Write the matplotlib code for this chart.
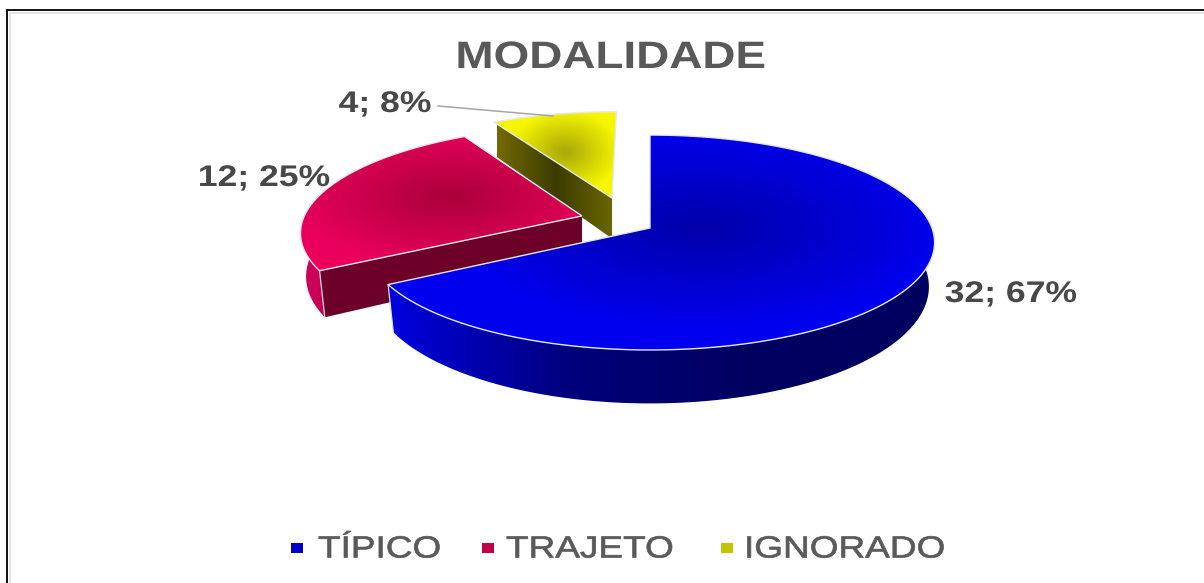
import numpy as np
import matplotlib
matplotlib.use("Agg")
import matplotlib.pyplot as plt
from matplotlib.patches import Polygon, Rectangle
from matplotlib.colors import LinearSegmentedColormap
from matplotlib.patheffects import AbstractPathEffect
from matplotlib.transforms import Affine2D

# Data
title = "MODALIDADE"
categories = ["TÍPICO", "TRAJETO", "IGNORADO"]
values = [32, 12, 4]

# Style
plt.rcParams["font.family"] = ["Liberation Sans", "DejaVu Sans"]
TXT = "#595959"
LBL = "#484848"
legend_colors = ["#0000c8", "#c00048", "#c4c400"]
explode = [(0.0, 0.0), (-0.245, 0.116), (-0.14, 0.295)]
grad_center = [(700, 228, 250, 100), (450, 197, 165, 70), (565, 152, 55, 42)]
top_inner = ["#0000aa", "#aa003a", "#a8a80a"]
top_outer = ["#0000ee", "#ea005c", "#f6f600"]
rim_stops = [["#0000e0", "#00007a", "#000060", "#000060"],
             ["#d80060", "#c00050"],
             ["#6a6400", "#6a6400"]]
rim_xr = [(385, 945), (295, 335), (490, 620)]
face_stops = [["#0000e0", "#0000e0"], ["#6c0028", "#6c0028"],
              ["#736a00", "#3c3c00", "#6c6800"]]
face_xr = [(380, 655), (315, 590), (497, 615)]
RIM_FROM, RIM_TO = 78.5, 281.5

X0, Y0, A, B, K, D, VP = 650.0, 228.0, 282.0, 105.5, 0.135, 43.0, 0.98


class StretchX(AbstractPathEffect):
    """Widen real text horizontally about a fixed pixel column."""

    def __init__(self, x0, sx, stroke=0.0):
        super().__init__()
        self.x0, self.sx, self.stroke = x0, sx, stroke

    def draw_path(self, renderer, gc, tpath, affine, rgbFace=None):
        aff = affine + Affine2D().translate(-self.x0, 0).scale(self.sx, 1).translate(self.x0, 0)
        gc0 = renderer.new_gc()
        gc0.copy_properties(gc)
        if self.stroke:
            gc0.set_linewidth(self.stroke)
            gc0.set_foreground(rgbFace)
        renderer.draw_path(gc0, tpath, aff, rgbFace)
        gc0.restore()


def project(x, y, ax0=None, z=0.0):
    s = 1.0 / (1.0 + K * y)
    px = X0 + A * x * s
    py = Y0 - B * y * s
    if z:
        px = ax0 + (px - ax0) * VP
        py = py + z * D * s ** 1.5
    return px, py


def arc(ex, ey, t0, t1, ax0=None, z=0.0, n=160):
    th = np.radians(np.linspace(t0, t1, n))
    return np.column_stack(project(ex + np.sin(th), ey + np.cos(th), ax0, z))


def paint(ax, poly, img, extent, z):
    patch = Polygon(poly, closed=True, fc="none", ec="none", zorder=z)
    ax.add_patch(patch)
    im = ax.imshow(img, extent=extent, aspect="auto", zorder=z, interpolation="bilinear")
    im.set_clip_path(patch)


def horiz(stops, xr):
    cm = LinearSegmentedColormap.from_list("h", stops)
    return cm(np.linspace(0, 1, 256))[None, :, :], (xr[0], xr[1], 583, 0)


fig = plt.figure(figsize=(12.04, 5.83), dpi=100, facecolor="white")
ax = fig.add_axes([0, 0, 1, 1])
ax.axis("off")

total = sum(values)
edges = np.concatenate([[0], np.cumsum(values)]) * 360.0 / total

z = 2
for i in range(len(values) - 1, -1, -1):
    t0, t1 = edges[i], edges[i + 1]
    ex, ey = explode[i]
    apex = np.array(project(ex, ey))
    top = arc(ex, ey, t0, t1)
    low = arc(ex, ey, t0, t1, apex[0], 1.0)
    apex_low = np.array(project(ex, ey, apex[0], 1.0))
    # outer rim: only the part that faces the viewer
    lo, hi = max(t0, RIM_FROM), min(t1, RIM_TO)
    if lo < hi:
        img, ext = horiz(rim_stops[i], rim_xr[i])
        paint(ax, np.vstack([arc(ex, ey, lo, hi), arc(ex, ey, lo, hi, apex[0], 1.0)[::-1]]),
              img, ext, z)
    # radial side faces: only those turned towards the viewer
    img, ext = horiz(face_stops[i], face_xr[i])
    if np.sin(np.radians(t0)) < -1e-6:
        paint(ax, np.vstack([apex, top[0], low[0], apex_low]), img, ext, z + 0.1)
    if np.sin(np.radians(t1)) > 1e-6:
        paint(ax, np.vstack([apex, top[-1], low[-1], apex_low]), img, ext, z + 0.2)
    # top surface
    poly = np.vstack([apex, top])
    xx, yy = np.meshgrid(np.arange(0, 1204, 2), np.arange(0, 583, 2))
    cx, cy, rx, ry = grad_center[i]
    d = np.clip(np.hypot((xx + 1 - cx) / rx, (yy + 1 - cy) / ry), 0, 1)
    cm = LinearSegmentedColormap.from_list("t", [top_inner[i], top_outer[i]])
    paint(ax, poly, cm(d), (0, 1204, 583, 0), z + 0.3)
    ax.add_patch(Polygon(poly, closed=True, fc="none", ec="#e6e6f0", lw=1.0,
                         zorder=z + 0.4, joinstyle="miter"))
    # vertical seam where the two front slices meet
    if i in (0, 1):
        seam = top[-1] if i == 0 else top[0]
        seam_low = low[-1] if i == 0 else low[0]
        ax.plot([seam[0], seam_low[0]], [seam[1], seam_low[1]], color="#dcdce6",
                lw=0.9, zorder=z + 0.4)
    z += 1

# Frame
ax.plot([7, 7, 1204], [583, 10, 10], color="#111111", lw=1.4, zorder=1,
        solid_joinstyle="miter")
ax.plot([9.5, 9.5, 1204], [583, 12.5, 12.5], color="#e4e4e4", lw=1.4, zorder=1,
        solid_joinstyle="miter")

# Title
ax.text(610.5, 58, title, ha="center", va="center", fontsize=27.5, fontweight="bold",
        color=TXT, zorder=10, path_effects=[StretchX(610.5, 1.2)])

# Data labels
label_pos = [(1011, 294), (264, 178), (385, 104)]
for v, (lx, ly) in zip(values, label_pos):
    ax.text(lx, ly, f"{v}; {round(100 * v / total)}%", ha="center", va="center",
            fontsize=21.5, fontweight="bold", color=LBL, zorder=10,
            path_effects=[StretchX(lx, 1.19)])
ax.plot([438, 553], [106, 116], color="#a6a6a6", lw=1.1, zorder=10)

# Legend
sq_x = [291, 482, 721]
txt_x = [318, 506, 744]
for c, name, sx, tx in zip(legend_colors, categories, sq_x, txt_x):
    ax.add_patch(Rectangle((sx, 543), 12, 10, fc=c, ec="none", zorder=10))
    ax.text(tx, 549.5, name, ha="left", va="center", fontsize=22, color=TXT, zorder=10,
            path_effects=[StretchX(tx, 1.21, stroke=0.5)])

ax.set_xlim(0, 1204)
ax.set_ylim(583, 0)
fig.savefig("out.png", dpi=100, facecolor="white")
